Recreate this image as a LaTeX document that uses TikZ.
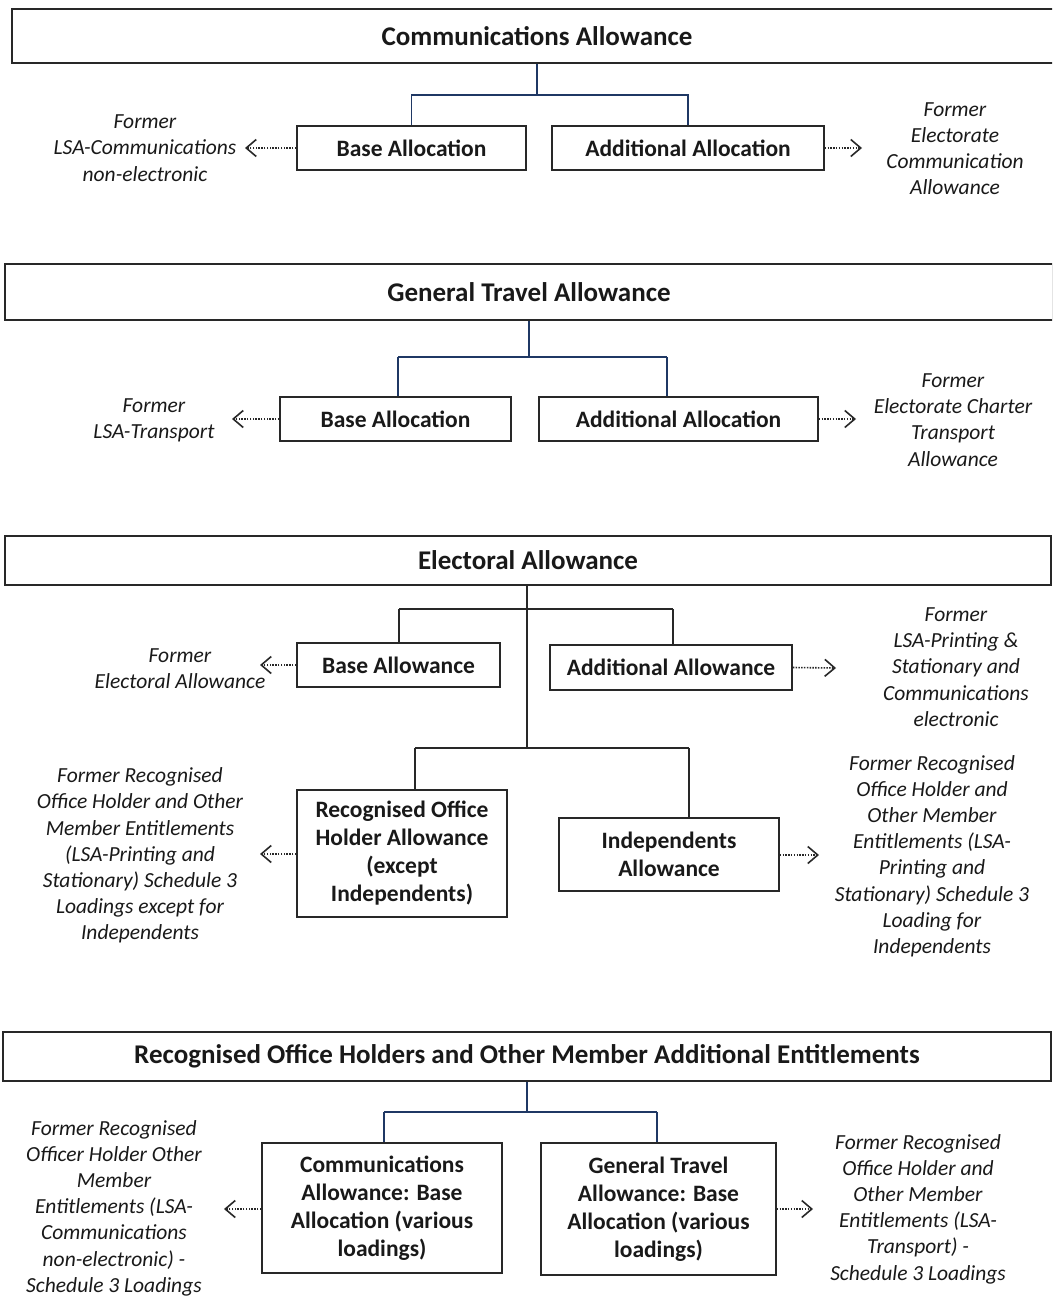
\documentclass[tikz,border=0pt]{standalone}
\usepackage{fontspec}
\setmainfont{Carlito}
\usetikzlibrary{arrows.meta}
\definecolor{navy}{RGB}{31,56,100}
\definecolor{ink}{RGB}{25,25,25}
\definecolor{edge}{RGB}{40,40,40}
\tikzset{
  box/.style={draw=edge, line width=1.5pt, fill=white, align=center, inner sep=0pt,
    text=ink, font=\bfseries\fontsize{23.5}{28}\selectfont},
  titlebox/.style={draw=edge, line width=2pt, fill=white, inner sep=0pt, text=ink,
    font=\bfseries\fontsize{27}{30}\selectfont},
  note/.style={align=center, text=ink, inner sep=0pt, font=\itshape\fontsize{21.5}{26.2}\selectfont},
  tree/.style={draw=navy, line width=1.3pt},
  treeg/.style={draw=edge, line width=1.3pt},
  farrow/.style={draw=edge, line width=1.6pt, dash pattern=on 1.5pt off 1.3pt,
    -{Straight Barb[length=10pt,width=17pt,line width=1.6pt]}}
}
\begin{document}
\begin{tikzpicture}[x=1pt,y=-1pt]
\clip (0,0) rectangle (1052,1298);
\fill[white] (0,0) rectangle (1052,1298);

% ---------------- Section 1 ----------------
\node[titlebox, minimum width=1050pt, minimum height=54pt] (T1) at (537,36) {Communications Allowance};
\node[box, minimum width=229pt, minimum height=44pt] (B1) at (411.5,148) {Base Allocation};
\node[box, minimum width=272pt, minimum height=44pt] (A1) at (688,148) {Additional Allocation};
\node[note] (L1) at (145,148) {Former\\LSA-Communications\\non-electronic};
\node[note] (R1) at (955,148.5) {Former\\Electorate\\Communication\\Allowance};
\coordinate (j1) at (537,95);
\draw[tree] (T1.south) -- (j1);
\draw[tree] (j1) -| (B1.north);
\draw[tree] (j1) -| (A1.north);
\coordinate (e1l) at (245,148);
\coordinate (e1r) at (862,148);
\draw[farrow] (B1.west) -- (e1l);
\draw[farrow] (A1.east) -- (e1r);

% ---------------- Section 2 ----------------
\node[titlebox, minimum width=1048pt, minimum height=56pt] (T2) at (529,292) {General Travel Allowance};
\node[box, minimum width=231pt, minimum height=44pt] (B2) at (395.5,419) {Base Allocation};
\node[box, minimum width=279pt, minimum height=44pt] (A2) at (678.5,419) {Additional Allocation};
\node[note] (L2) at (154,420) {Former\\LSA-Transport};
\node[note] (R2) at (953,420) {Former\\Electorate Charter\\Transport\\Allowance};
\coordinate (j2) at (529,357);
\coordinate (j2l) at (398,357);
\coordinate (j2r) at (667,357);
\draw[tree] (T2.south -| j2) -- (j2);
\draw[tree] (j2l) -- (j2r);
\draw[tree] (j2l) -- (j2l |- B2.north);
\draw[tree] (j2r) -- (j2r |- A2.north);
\coordinate (e2l) at (232,419);
\coordinate (e2r) at (856,419);
\draw[farrow] (B2.west) -- (e2l);
\draw[farrow] (A2.east) -- (e2r);

% ---------------- Section 3 ----------------
\node[titlebox, minimum width=1046pt, minimum height=49pt] (T3) at (528,560.5) {Electoral Allowance};
\node[box, minimum width=203pt, minimum height=44pt] (B3) at (398.5,665) {Base Allowance};
\node[box, minimum width=242pt, minimum height=45pt] (A3) at (671,667.5) {Additional Allowance};
\node[box, minimum width=210pt, minimum height=127pt] (O3) at (402,853.5) {Recognised Office\\Holder Allowance\\(except\\Independents)};
\node[box, minimum width=220pt, minimum height=73pt] (I3) at (669,854.5) {Independents\\Allowance};
\node[note] (L3a) at (180,669) {Former\\Electoral Allowance};
\node[note] (R3a) at (956,667) {Former\\LSA-Printing \&\\Stationary and\\Communications\\electronic};
\node[note] (L3b) at (140,855.5) {Former Recognised\\Office Holder and Other\\Member Entitlements\\(LSA-Printing and\\Stationary) Schedule 3\\Loadings except for\\Independents};
\node[note] (R3b) at (932,856) {Former Recognised\\Office Holder and\\Other Member\\Entitlements (LSA-\\Printing and\\Stationary) Schedule 3\\Loading for\\Independents};
\coordinate (j3) at (527,609);
\coordinate (j3l) at (399,609);
\coordinate (j3r) at (673,609);
\coordinate (k3) at (527,748);
\coordinate (k3l) at (415,748);
\coordinate (k3r) at (689,748);
\draw[treeg] (T3.south -| j3) -- (k3);
\draw[treeg] (j3l) -- (j3r);
\draw[treeg] (j3l) -- (j3l |- B3.north);
\draw[treeg] (j3r) -- (j3r |- A3.north);
\draw[treeg] (k3l) -- (k3r);
\draw[treeg] (k3l) -- (k3l |- O3.north);
\draw[treeg] (k3r) -- (k3r |- I3.north);
\coordinate (e3al) at (260,665);
\coordinate (e3ar) at (836,668);
\coordinate (e3bl) at (260,854);
\coordinate (e3br) at (819,855);
\draw[farrow] (B3.west) -- (e3al);
\draw[farrow] (A3.east) -- (e3ar);
\draw[farrow] (O3.west |- e3bl) -- (e3bl);
\draw[farrow] (I3.east |- e3br) -- (e3br);

% ---------------- Section 4 ----------------
\node[titlebox, minimum width=1048pt, minimum height=49pt] (T4) at (527,1056.5) {Recognised Office Holders and Other Member Additional Entitlements};
\node[box, minimum width=240pt, minimum height=130pt] (C4) at (382,1208) {Communications\\Allowance: Base\\Allocation (various\\loadings)};
\node[box, minimum width=235pt, minimum height=132pt] (G4) at (658.5,1209) {General Travel\\Allowance: Base\\Allocation (various\\loadings)};
\node[note] (L4) at (114,1208) {Former Recognised\\Officer Holder Other\\Member\\Entitlements (LSA-\\Communications\\non-electronic) -\\Schedule 3 Loadings};
\node[note] (R4) at (918,1209) {Former Recognised\\Office Holder and\\Other Member\\Entitlements (LSA-\\Transport) -\\Schedule 3 Loadings};
\coordinate (j4) at (527,1112);
\coordinate (j4l) at (384,1112);
\coordinate (j4r) at (657,1112);
\draw[tree] (T4.south -| j4) -- (j4);
\draw[tree] (j4l) -- (j4r);
\draw[tree] (j4l) -- (j4l |- C4.north);
\draw[tree] (j4r) -- (j4r |- G4.north);
\coordinate (e4l) at (224,1209);
\coordinate (e4r) at (813,1209);
\draw[farrow] (C4.west |- e4l) -- (e4l);
\draw[farrow] (G4.east |- e4r) -- (e4r);
\end{tikzpicture}
\end{document}
